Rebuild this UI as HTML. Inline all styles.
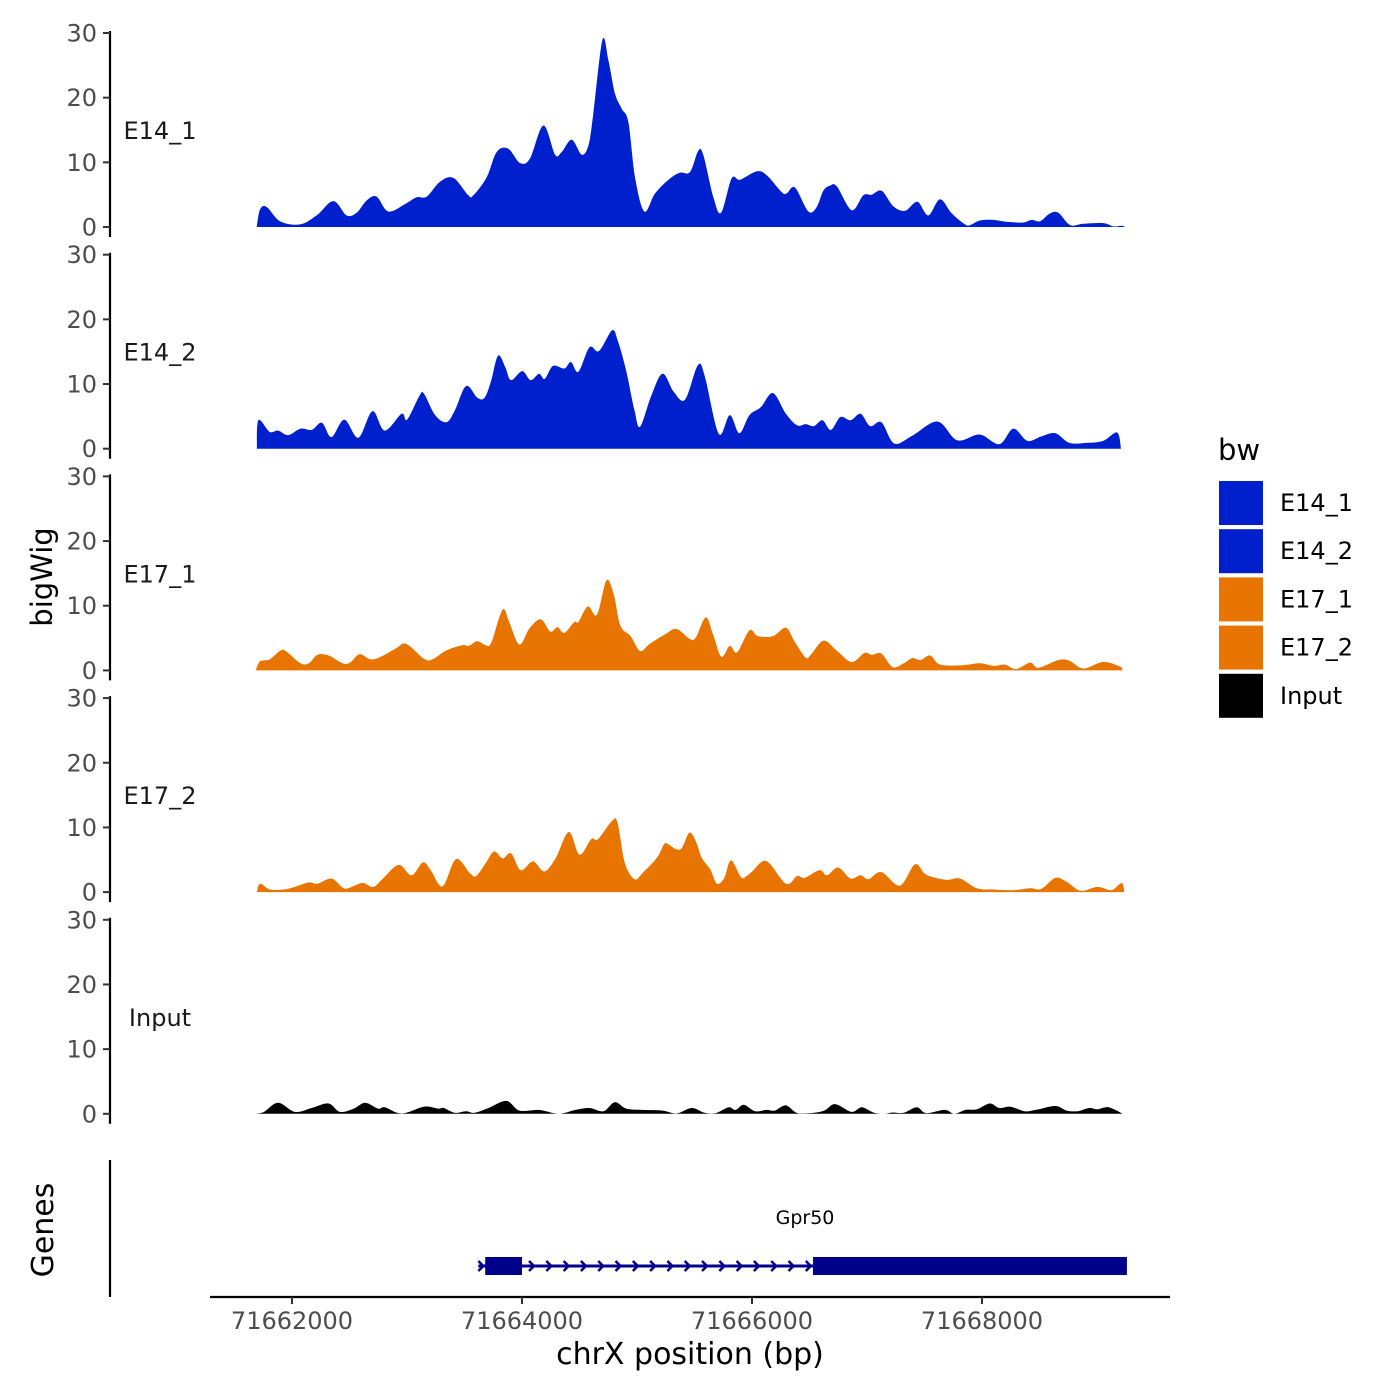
<!DOCTYPE html>
<html><head><meta charset="utf-8">
<style>
html,body{margin:0;padding:0;background:#fff;}
svg{display:block;font-family:"DejaVu Sans","Liberation Sans",sans-serif;}
</style></head>
<body>
<svg id="chart" width="1400" height="1400" viewBox="0 0 1400 1400" xmlns="http://www.w3.org/2000/svg">
<rect width="1400" height="1400" fill="#fff"/>
<g id="panels"></g>
<g id="genes"></g>
<g id="xaxis"></g>
<text x="52" y="577" font-size="29" fill="#000" text-anchor="middle" transform="rotate(-90 52 577)">bigWig</text>
<text x="53" y="1230" font-size="30" fill="#000" text-anchor="middle" transform="rotate(-90 53 1230)">Genes</text>
<text x="690" y="1364" font-size="30" fill="#000" text-anchor="middle">chrX position (bp)</text>
<g id="legend">
<text x="1218" y="460" font-size="29" fill="#000">bw</text>
</g>
</svg>
<script>
// ---- data (positions are bp offsets from 71662000) ----
const START = 71662000;
const trackNames = ["E14_1","E14_2","E17_1","E17_2","Input"];
const trackColors = ["#0020ce","#0020ce","#e87502","#e87502","#000000"];
const yTicks = [0,10,20,30];
const xTicks = [71662000,71664000,71666000,71668000];

const pos1 = [-307,-278,-220,-104,70,215,359,475,562,649,736,838,997,1084,1171,1287,1403,1533,1577,1693,1780,1881,1983,2070,2186,2287,2345,2432,2519,2577,2620,2699,2751,2809,2867,2925,2983,3064,3157,3287,3374,
3461,3533,3577,3664,3731,3823,3896,4041,4128,4258,4302,4374,4490,4563,4620,4678,4737,4867,4968,5041,5128,5229,5331,5438,5533,5635,5737,5852,5896,5983,6099,6215,6360,6432,6505,6592,6664,6766,6881,7055,7142,7215,7244];
const val1 = [0,2.7,3.1,0.9,0.4,1.8,4.0,1.8,2.2,4.1,4.7,2.4,3.7,4.6,4.7,7.0,7.6,4.9,4.9,7.7,11.6,12.1,9.9,10.6,15.7,11.2,11.6,13.5,11.2,12.6,17.5,28.9,25.8,20.6,18.3,16.2,7.7,2.4,5.2,7.5,8.4,
8.5,11.8,11.1,4.6,2.2,7.5,7.3,8.6,8.0,5.4,5.2,6.1,2.4,3.1,5.6,6.4,6.3,2.6,4.9,5.0,5.6,3.2,2.5,3.9,1.8,4.3,2.1,0.4,0.3,1.0,1.1,0.8,0.7,1.1,0.9,2.1,2.2,0.3,0.5,0.6,0.1,0.2,0];

const pos2 = [-306,-292,-194,-121,-33,74,172,260,343,455,577,699,806,953,1001,1109,1148,1245,1343,1416,1514,1611,1675,1733,1792,1855,1904,2002,2075,2148,2197,2270,2368,2426,2490,2587,2670,2783,2831,2905,2978,3027,3124,3222,3319,3417,3529,3588,3710,3807,3890,3978,4076,4183,4295,4393,4466,4539,4613,4686,4769,4857,4944,5027,5125,5237,5393,5613,5784,5979,6150,6272,6394,6516,6638,6760,6906,7053,7175,7209];
const val2 = [0,4.4,2.6,2.8,2.1,3.1,2.9,4.0,1.8,4.5,1.7,5.8,2.8,5.4,4.5,8.2,8.5,5.2,4.1,5.9,9.7,7.9,7.9,10.6,14.4,12.6,10.6,12.0,10.6,11.6,10.8,12.8,12.4,13.4,11.9,15.7,15.1,18.3,16.8,12.1,5.9,3.4,8.2,11.6,8.8,7.6,12.9,11.3,2.3,5.2,2.4,5.2,6.4,8.6,5.4,3.6,3.8,3.5,4.4,2.9,4.9,4.4,5.4,3.5,4.1,0.8,2.0,4.2,1.3,2.2,0.7,3.1,1.2,1.9,2.4,0.9,0.9,1.2,2.5,0];

const pos3 = [-316,-277,-194,-97,-48,74,147,221,318,440,504,587,684,782,904,992,1148,1221,1343,1480,1538,1611,1685,1733,1831,1890,1977,2065,2163,2246,2309,2368,2456,2490,2573,2651,2734,2797,2856,2944,3027,3110,3246,3344,3466,3515,3598,3661,3734,3807,3871,3978,4051,4183,4295,4369,4466,4515,4622,4735,4866,4979,5042,5125,5223,5320,5393,5467,5550,5637,5833,5979,6101,6199,6296,6418,6491,6662,6760,6882,7053,7199,7223];
const val3 = [0,1.4,1.7,3.1,2.9,1.1,1.1,2.4,2.3,1.1,1.2,2.5,1.7,2.2,3.4,4.1,1.8,1.7,3.1,3.9,3.8,4.5,3.9,4.3,9.4,7.4,4.0,6.5,7.9,6.0,6.7,5.8,7.5,7.5,9.9,8.6,13.9,11.8,6.9,5.3,3.0,4.1,5.6,6.4,4.8,5.2,8.2,5.6,2.1,3.8,2.8,6.2,5.3,5.3,6.6,4.5,2.0,2.5,4.6,3.1,1.3,2.7,2.4,2.6,0.5,1.1,1.9,1.6,2.3,0.9,0.8,1.1,0.7,0.9,0.2,1.2,0.4,1.6,1.5,0.3,1.3,0.6,0];

const pos4 = [-306,-277,-194,-72,25,147,221,343,440,489,611,709,796,928,1040,1138,1206,1309,1426,1548,1602,1685,1758,1831,1904,1987,2075,2114,2197,2295,2407,2500,2602,2661,2783,2831,2895,2978,3051,3173,3236,3271,3344,3393,3456,3515,3563,3637,3695,3759,3817,3905,3954,4003,4125,4295,4393,4456,4588,4652,4749,4857,4944,5013,5125,5286,5418,5515,5686,5808,5955,6101,6272,6418,6516,6638,6735,6857,7004,7126,7214,7238];
const val4 = [0,1.3,0.4,0.4,0.8,1.5,1.3,2.1,0.7,0.6,1.4,0.8,2.2,4.2,2.6,4.6,3.4,0.9,5.1,2.9,2.5,4.5,6.3,5.2,6.0,3.4,4.6,4.6,3.2,5.3,9.3,5.8,8.2,8.2,11.0,10.7,4.5,2.0,3.0,5.3,7.4,7.4,6.6,6.9,9.2,7.7,5.3,3.5,1.3,2.2,4.9,2.3,2.5,3.2,4.8,1.3,2.5,2.2,3.4,2.6,3.8,2.1,2.6,2.0,3.1,1.0,4.3,2.7,1.9,2.1,0.6,0.4,0.3,0.6,0.5,2.2,1.6,0.2,0.8,0.3,1.4,0];

const pos5 = [-316,-243,-121,25,172,318,416,538,635,748,806,953,1148,1270,1319,1416,1514,1587,1709,1865,1977,2148,2319,2465,2587,2709,2807,2905,3051,3222,3344,3476,3588,3685,3798,3856,3929,4027,4125,4198,4295,4408,4613,4720,4866,4954,5062,5149,5223,5320,5432,5515,5676,5759,5857,5955,6067,6150,6247,6369,6467,6638,6735,6833,6931,7004,7101,7223];
const val5 = [0,0.3,1.7,0.3,0.9,1.6,0.3,0.8,1.7,0.8,1.0,0.05,1.1,0.8,0.9,0.15,0.4,0.15,0.9,2.0,0.5,0.6,0,0.6,0.9,0.4,1.8,0.8,0.6,0.5,0.05,0.9,0.15,0.1,1.0,0.6,1.4,0.4,0.6,0.5,1.3,0.05,0.4,1.5,0.3,1.0,0.15,0,0.2,0.15,1.0,0.1,0.6,0,0.6,0.7,1.6,0.9,1.1,0.4,0.6,1.2,0.5,0.4,0.9,0.7,1.0,0];

const positions = [pos1,pos2,pos3,pos4,pos5];
const values = [val1,val2,val3,val4,val5];

const geneName = "Gpr50";
const geneStart = 71663620;
const geneEnd = 71669260;
const exonStarts = [71663680, 71666530];
const exonEnds = [71664000, 71669260];

// ---- scales ----
const NS = "http://www.w3.org/2000/svg";
const xPx = bp => 292 + (bp - START) * 0.115;
const panelBase = i => 227 + i * 221.7;
const PXU = 6.467;
const yPx = (i, v) => panelBase(i) - v * PXU;

function mk(tag, attrs, parent){
  const e = document.createElementNS(NS, tag);
  for (const k in attrs) e.setAttribute(k, attrs[k]);
  parent.appendChild(e);
  return e;
}

function smoothPath(pts, base){
  let d = '';
  for (let k = 0; k < pts.length - 1; k++) {
    const p0 = pts[Math.max(k-1,0)], p1 = pts[k], p2 = pts[k+1], p3 = pts[Math.min(k+2, pts.length-1)];
    const c1x = p1[0] + (p2[0]-p0[0])/6, c1y = Math.min(base, p1[1] + (p2[1]-p0[1])/6);
    const c2x = p2[0] - (p3[0]-p1[0])/6, c2y = Math.min(base, p2[1] - (p3[1]-p1[1])/6);
    d += `C${c1x.toFixed(1)},${c1y.toFixed(1)} ${c2x.toFixed(1)},${c2y.toFixed(1)} ${p2[0].toFixed(1)},${p2[1].toFixed(1)}`;
  }
  return d;
}

const panels = document.getElementById('panels');
trackNames.forEach((name, i) => {
  const g = mk('g', {}, panels);
  
  
  const ax = mk('line', {x1:110, x2:110, y1:yPx(i,30)-2, y2:panelBase(i)+10, stroke:'#000', 'stroke-width':2.2}, g);
  
  
  yTicks.forEach(t => {
    const y = yPx(i, t);
    const tk = mk('line', {x1:103, x2:110, y1:y, y2:y, stroke:'#333', 'stroke-width':2}, g);
    
    
    const tl = mk('text', {x:97, y:y+8.5, 'font-size':24, fill:'#4d4d4d', 'text-anchor':'end'}, g);
    tl.textContent = t;
    
    
  });
  const lab = mk('text', {x:160, y:panelBase(i)-97+9, 'font-size':24, fill:'#1a1a1a', 'text-anchor':'middle'}, g);
  lab.textContent = name;
  
  
  const P = positions[i], V = values[i];
  const n = Math.min(P.length, V.length);
  const pts = [];
  for (let k = 0; k < n; k++) pts.push([xPx(START + P[k]), yPx(i, V[k])]);
  const base = panelBase(i);
  let d = 'M' + pts[0][0].toFixed(1) + ',' + base.toFixed(1) + 'L' + pts[0][0].toFixed(1) + ',' + pts[0][1].toFixed(1);
  d += smoothPath(pts, base);
  d += 'L' + pts[n-1][0].toFixed(1) + ',' + base.toFixed(1) + 'Z';
  const area = mk('path', {d:d, fill:trackColors[i]}, g);
  
  
});

// genes track
const gg = document.getElementById('genes');
const gax = mk('line', {x1:110, x2:110, y1:1160, y2:1297, stroke:'#000', 'stroke-width':2.2}, gg);


const gy = 1266;
const gl = mk('line', {x1:xPx(geneStart), x2:xPx(geneEnd), y1:gy, y2:gy, stroke:'#00008b', 'stroke-width':3}, gg);


for (let x = xPx(exonEnds[0]) + 10; x < xPx(exonStarts[1]) - 2; x += 17.3) {
  const a = mk('path', {d:`M${x-3},${gy-5}L${x+2},${gy}L${x-3},${gy+5}`, fill:'none', stroke:'#00008b', 'stroke-width':2.5}, gg);
  
  
}
const a0 = mk('path', {d:`M${xPx(geneStart)},${gy-5}L${xPx(geneStart)+5},${gy}L${xPx(geneStart)},${gy+5}`, fill:'none', stroke:'#00008b', 'stroke-width':2.5}, gg);


exonStarts.forEach((s, k) => {
  const r = mk('rect', {x:xPx(s), y:gy-9, width:xPx(exonEnds[k])-xPx(s), height:18, fill:'#00008b'}, gg);
  
  
});
const gt = mk('text', {x:805, y:1224, 'font-size':19, fill:'#000', 'text-anchor':'middle'}, gg);
gt.textContent = geneName;



// x axis
const xa = document.getElementById('xaxis');
const xl = mk('line', {x1:210, x2:1170, y1:1297, y2:1297, stroke:'#000', 'stroke-width':2.2}, xa);


xTicks.forEach(t => {
  const x = xPx(t);
  const tk = mk('line', {x1:x, x2:x, y1:1297, y2:1304, stroke:'#333', 'stroke-width':2}, xa);
  
  
  const tl = mk('text', {x:x, y:1329, 'font-size':24, fill:'#4d4d4d', 'text-anchor':'middle'}, xa);
  tl.textContent = t;
  
  
});

// legend
const lg = document.getElementById('legend');
trackNames.forEach((name, i) => {
  const y = 481 + i * 48.2;
  const r = mk('rect', {x:1219, y:y, width:44, height:44, fill:trackColors[i]}, lg);
  
  
  const t = mk('text', {x:1280, y:y+30, 'font-size':24, fill:'#000'}, lg);
  t.textContent = name;
  
  
});
</script>
</body></html>
